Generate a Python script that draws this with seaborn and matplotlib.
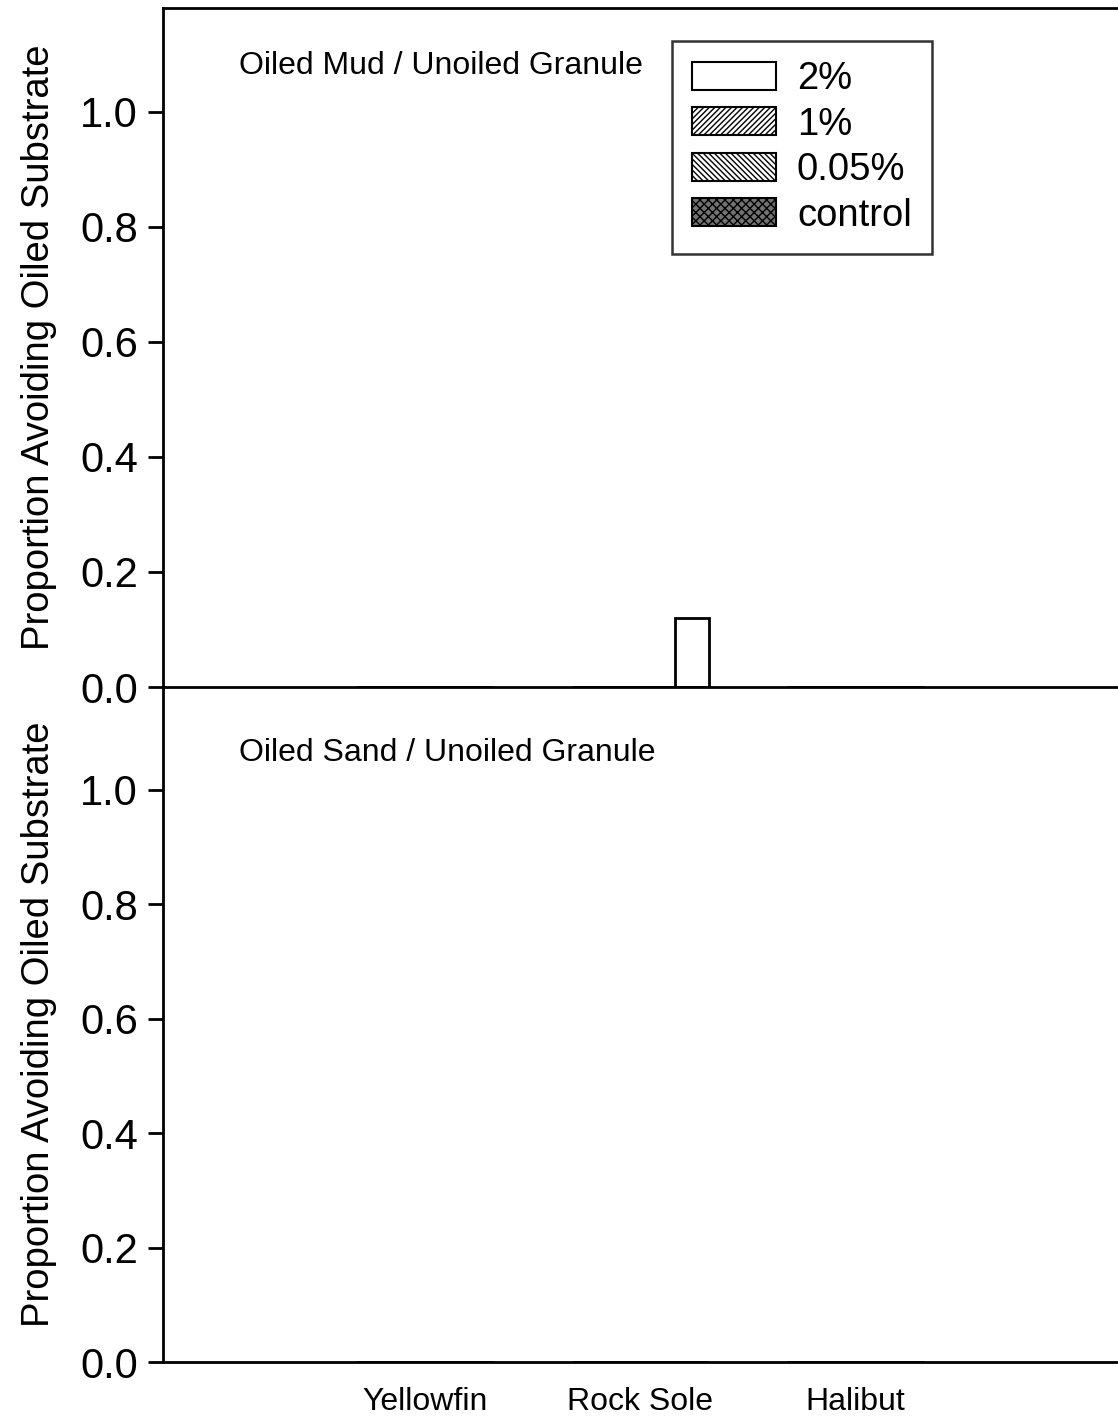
import matplotlib
matplotlib.use("Agg")
import matplotlib.pyplot as plt
import pandas as pd
import seaborn as sns
from matplotlib.patches import Patch

sns.set_style("ticks")
plt.rcParams["font.family"] = ["Liberation Sans", "DejaVu Sans"]
plt.rcParams["hatch.linewidth"] = 1.0
plt.rcParams["text.color"] = "black"
plt.rcParams["axes.labelcolor"] = "black"
plt.rcParams["xtick.color"] = "black"
plt.rcParams["ytick.color"] = "black"

species = ["Yellowfin", "Rock Sole", "Halibut"]
levels = ["2%", "1%", "0.05%", "control"]

# proportion avoiding oiled substrate, per level, per species
mud = {
    "2%": [0.0, 0.12, 0.0],
    "1%": [0.0, 0.0, 0.0],
    "0.05%": [0.0, 0.0, 0.0],
    "control": [0.0, 0.0, 0.0],
}
sand = {
    "2%": [0.0, 0.0, 0.0],
    "1%": [0.0, 0.0, 0.0],
    "0.05%": [0.0, 0.0, 0.0],
    "control": [0.0, 0.0, 0.0],
}
panel_titles = ["Oiled Mud / Unoiled Granule", "Oiled Sand / Unoiled Granule"]

styles = {
    "2%": dict(facecolor="white", hatch=None),
    "1%": dict(facecolor="white", hatch="//////"),
    "0.05%": dict(facecolor="white", hatch="\\\\\\\\\\\\"),
    "control": dict(facecolor="0.45", hatch="xxxx"),
}


def to_long(d):
    rows = []
    for lev in levels:
        for sp, v in zip(species, d[lev]):
            rows.append({"species": sp, "level": lev, "value": v})
    return pd.DataFrame(rows)


fig = plt.figure(figsize=(11.18, 14.17), dpi=100)
ax_top = fig.add_axes([163 / 1118, 1 - 687 / 1417, 1 - 163 / 1118, (687 - 8) / 1417])
ax_bot = fig.add_axes([163 / 1118, 1 - 1362 / 1417, 1 - 163 / 1118, (1362 - 687) / 1417])

plot_order = levels[::-1]
for ax, d, title in zip([ax_top, ax_bot], [mud, sand], panel_titles):
    df = to_long(d)
    sns.barplot(data=df, x="species", y="value", hue="level", order=species,
                hue_order=plot_order, palette=["white"] * 4, width=0.64, gap=0,
                edgecolor="black", linewidth=2, errorbar=None, legend=False, ax=ax)
    for lev, cont in zip(plot_order, ax.containers):
        for p in cont:
            p.set_facecolor(styles[lev]["facecolor"])
            if styles[lev]["hatch"]:
                p.set_hatch(styles[lev]["hatch"])
    ax.patch.set_alpha(0)
    ax.set_xlim(-1.22, 3.22)
    ax.set_ylim(0, 1.18)
    ax.set_yticks([0.0, 0.2, 0.4, 0.6, 0.8, 1.0])
    ax.set_yticklabels([f"{t:.1f}" for t in [0.0, 0.2, 0.4, 0.6, 0.8, 1.0]])
    ax.set_ylabel("Proportion Avoiding Oiled Substrate", fontsize=27.5, labelpad=17)
    ax.set_xlabel("")
    ax.tick_params(axis="y", labelsize=30, length=11, width=2, direction="out", pad=7)
    ax.tick_params(axis="x", length=0, labelsize=23, pad=18)
    for s in ["left", "top", "bottom"]:
        ax.spines[s].set_linewidth(2)
        ax.spines[s].set_color("black")
    ax.spines["right"].set_visible(False)
    ax.text(0.08, 0.915 if ax is ax_top else 0.902, title, transform=ax.transAxes,
            fontsize=23, va="center", ha="left")

ax_top.set_xticklabels([])
ax_bot.spines["top"].set_visible(False)

handles = [Patch(facecolor=styles[l]["facecolor"], hatch=styles[l]["hatch"],
                 edgecolor="black", linewidth=1.5, label=l) for l in levels]
leg = ax_top.legend(handles=handles, loc="upper left", bbox_to_anchor=(0.533, 0.951),
                    fontsize=27.5, frameon=True, fancybox=False, edgecolor="black",
                    handlelength=2.2, handleheight=0.75, labelspacing=0.25,
                    handletextpad=0.55, borderpad=0.52, borderaxespad=0)
leg.get_frame().set_linewidth(1.8)

fig.savefig("out.png", dpi=100)
